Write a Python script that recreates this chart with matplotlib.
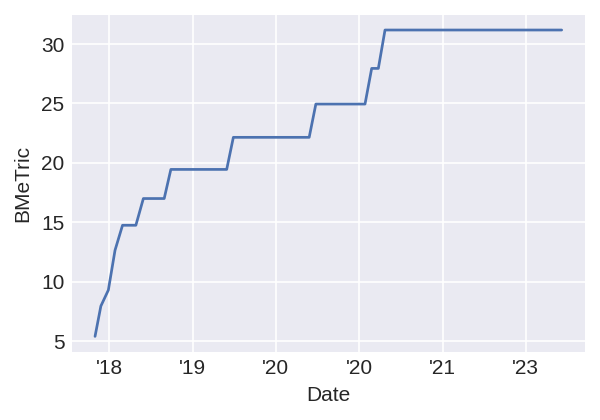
import matplotlib
matplotlib.use("Agg")
import matplotlib.pyplot as plt

# Data (x in decimal years, y = BMeTric)
dates = [2017.83, 2017.90, 2017.99, 2018.07, 2018.16, 2018.32, 2018.41, 2018.66,
         2018.74, 2019.41, 2019.49, 2020.40, 2020.48, 2021.07, 2021.15, 2021.23,
         2021.31, 2023.43]
bmetric = [5.4, 7.95, 9.3, 12.65, 14.75, 14.75, 17.0, 17.0,
           19.45, 19.45, 22.15, 22.15, 24.95, 24.95, 27.95, 27.95,
           31.18, 31.18]

tick_pos = [2018, 2019, 2020, 2021, 2022, 2023]
tick_labels = ["'18", "'19", "'20", "'20", "'21", "'23"]

plt.style.use("seaborn-v0_8-darkgrid")
plt.rcParams["font.family"] = ["Liberation Sans", "DejaVu Sans"]

fig, ax = plt.subplots(figsize=(4, 2.8), dpi=150)
fig.subplots_adjust(left=0.1195, right=0.975, top=0.965, bottom=0.1626)

ax.plot(dates, bmetric, color="#4C72B0", lw=1.3)
ax.set_xticks(tick_pos)
ax.set_xticklabels(tick_labels)
ax.set_xlabel("Date")
ax.set_ylabel("BMeTric")

fig.savefig("out.png")
